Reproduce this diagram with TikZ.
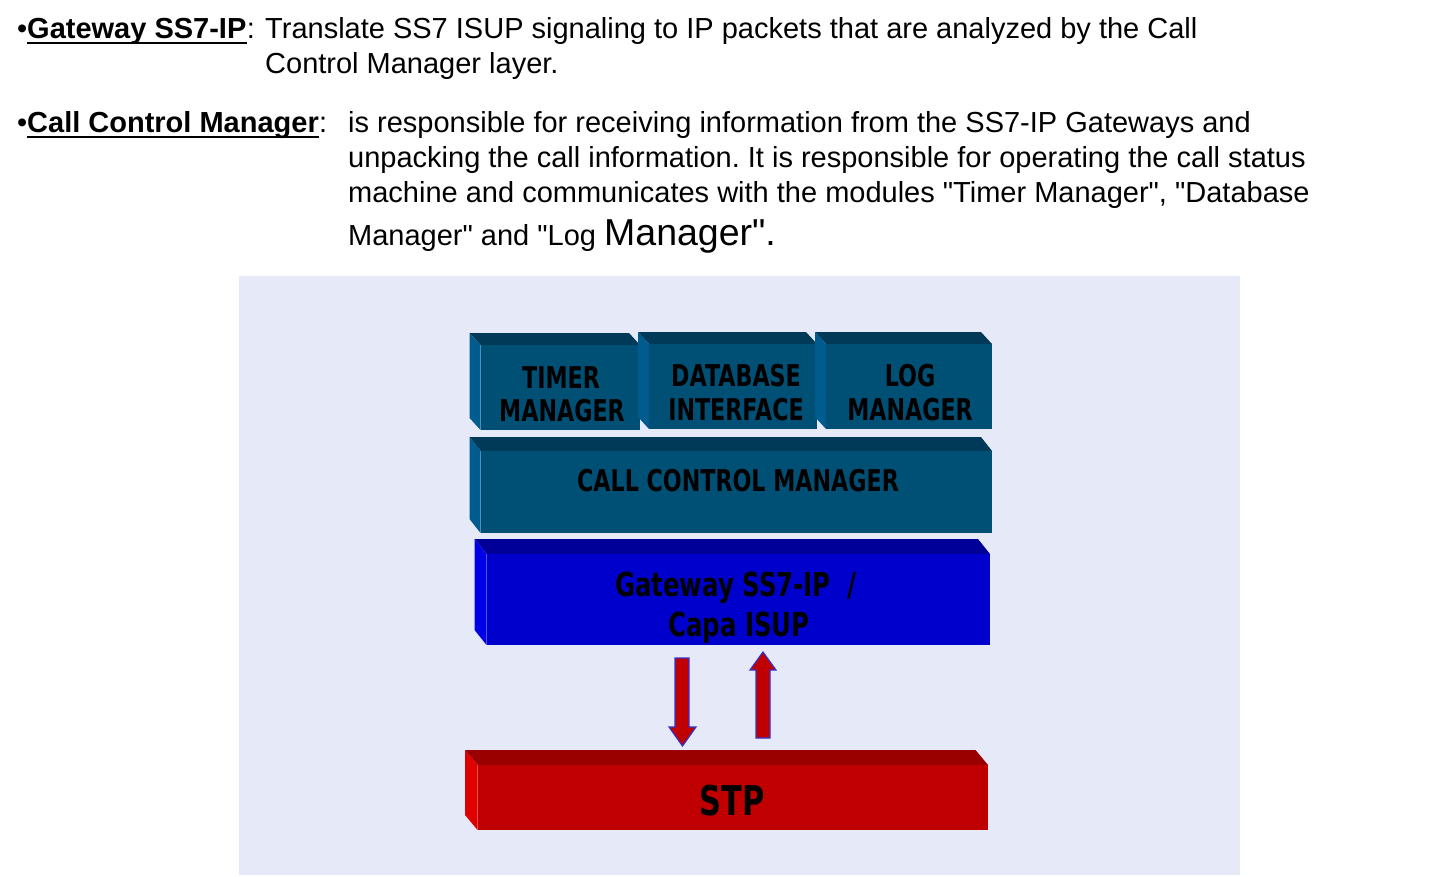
\documentclass[tikz,border=0pt]{standalone}
\usepackage{fontspec}
\setmainfont{Liberation Sans}[Ligatures=TeXOff]
\newfontfamily\blockfont{DejaVu Sans}[FakeStretch=0.74]
\frenchspacing
\definecolor{bgc}{HTML}{E6EAF8}
\definecolor{ccF}{HTML}{004F74}
\definecolor{ccT}{HTML}{003A58}
\definecolor{ccL}{HTML}{005C8E}
\definecolor{gwF}{HTML}{0000CC}
\definecolor{gwT}{HTML}{000099}
\definecolor{gwL}{HTML}{0000E6}
\definecolor{stF}{HTML}{C00000}
\definecolor{stT}{HTML}{990000}
\definecolor{stL}{HTML}{E00000}
\definecolor{arrF}{HTML}{C00000}
\definecolor{arrD}{HTML}{3333CC}
\newcommand\bevelbox[8]{%
  \fill[#8T] (#2,#3) -- ({#4-#6},#3) -- (#4,{#3+#7}) -- ({#2+#6},{#3+#7}) -- cycle;
  \fill[#8L] (#2,#3) -- ({#2+#6},{#3+#7}) -- ({#2+#6},#5) -- (#2,{#5-#7}) -- cycle;
  \node[fill=#8F, inner sep=0pt, outer sep=0pt, anchor=north west,
        minimum width={(#4-#2-#6)*1pt}, minimum height={(#5-#3-#7)*1pt}] (#1) at ({#2+#6},{#3+#7}) {};%
}
\tikzset{
  desc/.style={anchor=base west, inner sep=0pt, font=\fontsize{29}{34}\selectfont},
  headtxt/.style={anchor=base west, inner sep=0pt, font=\fontsize{29}{34}\selectfont\bfseries},
  uline/.style={line width=2.2pt},
  blk/.style={anchor=base, inner sep=0pt, text=black, font=\blockfont\bfseries\fontsize{30}{34}\selectfont},
  blkg/.style={anchor=base, inner sep=0pt, text=black, font=\blockfont\bfseries\fontsize{33}{38}\selectfont},
  blks/.style={anchor=base, inner sep=0pt, text=black, font=\blockfont\bfseries\fontsize{41}{46}\selectfont},
  blockarrow/.style={fill=arrF, draw=arrD, line width=1.2pt, line join=miter}
}
\begin{document}
\begin{tikzpicture}[x=1pt, y=-1pt]
\useasboundingbox (0,0) rectangle (1432,877);
% --- text part ---
\node[desc] (b1) at (17,39) {•};
\node[headtxt] (h1) at (27,39) {Gateway SS7-IP};
\node[desc] (c1) at (h1.base east) {:};
\draw[uline] ([yshift=-4pt]h1.base west) -- ([yshift=-4pt]h1.base east);
\node[desc] (d11) at (265,39) {Translate SS7 ISUP signaling to IP packets that are analyzed by the Call};
\node[desc] (d12) at (265,74) {Control Manager layer.};

\node[desc] (b2) at (17,133) {•};
\node[headtxt] (h2) at (27,133) {Call Control Manager};
\node[desc] (c2) at (h2.base east) {:};
\draw[uline] ([yshift=-4pt]h2.base west) -- ([yshift=-4pt]h2.base east);
\node[desc] (d21) at (348,133) {is responsible for receiving information from the SS7-IP Gateways and};
\node[desc] (d22) at (348,168) {unpacking the call information. It is responsible for operating the call status};
\node[desc] (d23) at (348,203) {machine and communicates with the modules "Timer Manager", "Database};
\node[desc] (d24) at (348,246) {Manager" and "Log {\fontsize{37.5}{43}\selectfont Manager".}};

% --- diagram ---
\fill[bgc] (239,276) rectangle (1240,875);

\bevelbox{tm}{469.5}{333}{640}{430}{11}{12}{cc}
\bevelbox{db}{638}{332}{817}{429}{11}{12}{cc}
\bevelbox{lg}{815}{332}{992}{429}{11}{12}{cc}
\bevelbox{ccm}{469.5}{437}{992}{533}{11}{14}{cc}
\bevelbox{gw}{474.5}{539}{990}{645}{12}{15}{gw}
\bevelbox{stp}{465}{750}{988}{830}{12.5}{15}{st}

\node[blk] (tm1) at (561,388) {TIMER};
\node[blk] (tm2) at (562,421) {MANAGER};
\node[blk] (db1) at (736,386) {DATABASE};
\node[blk] (db2) at (736,420) {INTERFACE};
\node[blk] (lg1) at (910,386) {LOG};
\node[blk] (lg2) at (910,420) {MANAGER};
\node[blk] (cc1) at (738,491) {CALL CONTROL MANAGER};
\node[blkg] (gw1) at (736,596) {Gateway SS7-IP \ /};
\node[blkg] (gw2) at (739,636) {Capa ISUP};
\node[blks] (st1) at (732,815) {STP};

\draw[blockarrow] (675,658) -- (689,658) -- (689,727) -- (696,727) -- (682.5,746) -- (669,727) -- (675,727) -- cycle;
\draw[blockarrow] (756,738) -- (770,738) -- (770,670) -- (776,670) -- (763,652) -- (750,670) -- (756,670) -- cycle;
\end{tikzpicture}
\end{document}
